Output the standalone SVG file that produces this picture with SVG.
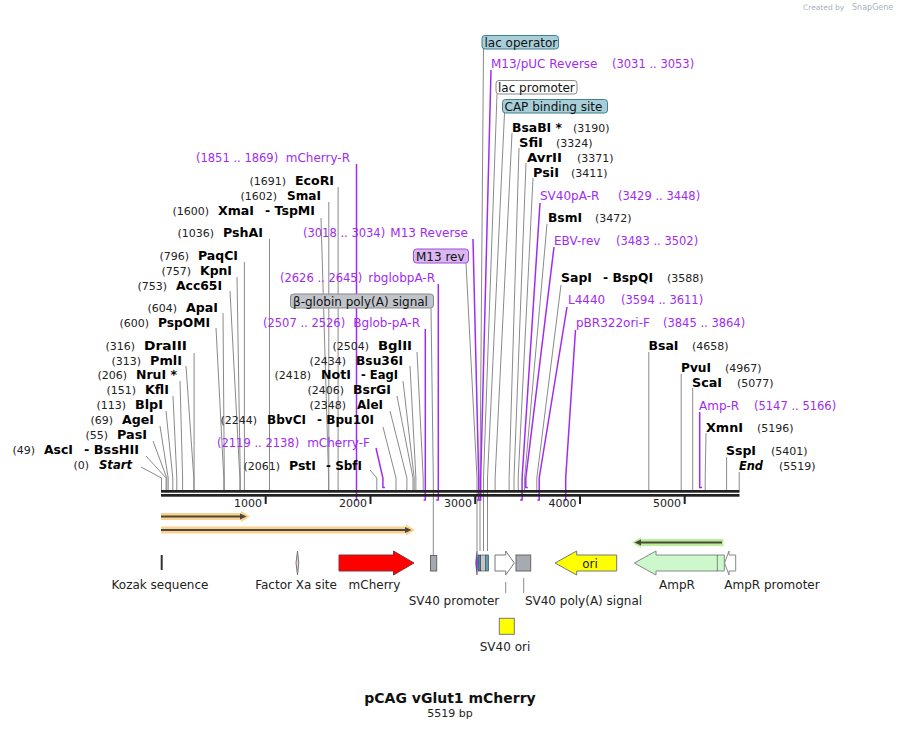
<svg xmlns="http://www.w3.org/2000/svg" width="901" height="729" viewBox="0 0 901 729">
<style>
text{font-family:"DejaVu Sans","Verdana",sans-serif}
.n{font-size:11px;fill:#222}
.e{font-size:12px;font-weight:bold;fill:#000}
.ei{font-size:12px;font-weight:bold;font-style:italic;fill:#000}
.pn{font-size:11.5px;fill:#a12cf0}
.pt{font-size:12px;fill:#a12cf0}
.f{font-size:12px;fill:#222}
.bx{font-size:12px;fill:#111}
.l{stroke:#8a8a8a;stroke-width:1;fill:none}
.pl{stroke:#a12cf0;stroke-width:1.5;fill:none}
.tk{stroke:#222;stroke-width:2}
.h1{fill:#fcc979;opacity:.85}
.h2{fill:#b5ec8d;opacity:.9}
.dk{fill:#4a4640}
</style>

<g id="connectors">
<line class="l" x1="194.1" y1="353" x2="194.1" y2="490"/>
<polyline class="l" points="186,366 193.8,478 193.8,490"/>
<polyline class="l" points="180,381 182.6,478 182.6,490"/>
<polyline class="l" points="173,396 176.8,478 176.8,490"/>
<polyline class="l" points="166,411 172.8,478 172.8,490"/>
<polyline class="l" points="160,426 168.2,478 168.2,490"/>
<polyline class="l" points="153,441 166.8,478 166.8,490"/>
<polyline class="l" points="146,456 166.1,478 166.1,490"/>
<polyline class="l" points="141,467 161.5,478 161.5,490"/>
<polyline class="l" points="216,328 223.8,478 223.8,490"/>
<polyline class="l" points="223,313 224.3,478 224.3,490"/>
<polyline class="l" points="230,291 239.9,478 239.9,490"/>
<polyline class="l" points="237,277 240.3,478 240.3,490"/>
<line class="l" x1="244.4" y1="262" x2="244.4" y2="490"/>
<line class="l" x1="269.5" y1="239" x2="269.5" y2="490"/>
<polyline class="l" points="321,218 328.6,478 328.6,490"/>
<line class="l" x1="328.8" y1="202" x2="328.8" y2="490"/>
<line class="l" x1="338.1" y1="187" x2="338.1" y2="490"/>
<polyline class="l" points="417,352 423.2,478 423.2,490"/>
<polyline class="l" points="410,366 415.9,478 415.9,490"/>
<polyline class="l" points="403,381 414.2,478 414.2,490"/>
<polyline class="l" points="397,396 413,478 413,490"/>
<polyline class="l" points="390,411 406.9,478 406.9,490"/>
<polyline class="l" points="383,427 396,478 396,490"/>
<polyline class="l" points="370,470 376.8,478 376.8,490"/>
<polyline class="l" points="512,133 495.1,478 495.1,490"/>
<polyline class="l" points="519,148 509.1,478 509.1,490"/>
<polyline class="l" points="526,163 514,478 514,490"/>
<polyline class="l" points="533,178 518.2,478 518.2,490"/>
<polyline class="l" points="547,224 524.6,478 524.6,490"/>
<polyline class="l" points="561,285 536.8,478 536.8,490"/>
<line class="l" x1="648.8" y1="352" x2="648.8" y2="490"/>
<line class="l" x1="681.2" y1="374" x2="681.2" y2="490"/>
<line class="l" x1="692.7" y1="388" x2="692.7" y2="490"/>
<polyline class="l" points="706,433 705.2,478 705.2,490"/>
<line class="l" x1="726.6" y1="457" x2="726.6" y2="490"/>
<line class="l" x1="739.2" y1="472" x2="739.2" y2="490"/>
<polyline class="l" points="483.5,49 480,478 480,551"/>
<polyline class="l" points="497,94 483.5,478 483.5,551"/>
<polyline class="l" points="504.5,113 487.5,478 487.5,551"/>
<polyline class="l" points="466,263 477,478 477,551"/>
<polyline class="l" points="431,308 433.3,478 433.3,555"/>
<line class="l" x1="505.7" y1="582" x2="505.7" y2="593"/>
<line class="l" x1="523.7" y1="578" x2="523.7" y2="593"/>
<polyline class="pl" points="356.5,164 356.5,500 354.8,500"/>
<polyline class="pl" points="473,239 478.7,478 478.7,500 477,500"/>
<polyline class="pl" points="438.3,284 438.3,500 436.2,500"/>
<polyline class="pl" points="425.3,329 425.3,500 423.6,500"/>
<polyline class="pl" points="376,448 382.9,478 382.9,487.5 384.9,487.5"/>
<polyline class="pl" points="491,70 480.7,478 480.7,500 478.4,500"/>
<polyline class="pl" points="540,203 522.1,478 522.1,500 520.1,500"/>
<polyline class="pl" points="554,247 525.8,478 525.8,487.5 527.8,487.5"/>
<polyline class="pl" points="567,307 539.2,478 539.2,500 537.4,500"/>
<polyline class="pl" points="575.5,330 565.7,478 565.7,500 563.7,500"/>
<polyline class="pl" points="699.7,412 699.7,487.5 702.1,487.5"/>
</g>

<g id="backbone">
<rect x="161" y="490" width="578.5" height="2.7" fill="#222"/>
<rect x="161" y="494" width="578.5" height="2.7" fill="#222"/>
<line class="tk" x1="265.7" y1="496" x2="265.7" y2="504"/>
<line class="tk" x1="370.5" y1="496" x2="370.5" y2="504"/>
<line class="tk" x1="475.2" y1="496" x2="475.2" y2="504"/>
<line class="tk" x1="580" y1="496" x2="580" y2="504"/>
<line class="tk" x1="684.7" y1="496" x2="684.7" y2="504"/>
<text class="n" x="262" y="507" text-anchor="end">1000</text>
<text class="n" x="367" y="507" text-anchor="end">2000</text>
<text class="n" x="472" y="507" text-anchor="end">3000</text>
<text class="n" x="576.5" y="507" text-anchor="end">4000</text>
<text class="n" x="681" y="507" text-anchor="end">5000</text>
</g>

<g id="DraIII"><text class="n" x="135" y="350" text-anchor="end">(316)</text><text class="e" x="144" y="350" textLength="43" lengthAdjust="spacingAndGlyphs">DraIII</text></g>
<g id="PmlI"><text class="n" x="141" y="365" text-anchor="end">(313)</text><text class="e" x="150" y="365" textLength="32" lengthAdjust="spacingAndGlyphs">PmlI</text></g>
<g id="NruI"><text class="n" x="127" y="379" text-anchor="end">(206)</text><text class="e" x="136" y="379" textLength="41" lengthAdjust="spacingAndGlyphs">NruI *</text></g>
<g id="KflI"><text class="n" x="136" y="394" text-anchor="end">(151)</text><text class="e" x="145" y="394" textLength="24" lengthAdjust="spacingAndGlyphs">KflI</text></g>
<g id="BlpI"><text class="n" x="126" y="409" text-anchor="end">(113)</text><text class="e" x="135" y="409" textLength="28" lengthAdjust="spacingAndGlyphs">BlpI</text></g>
<g id="AgeI"><text class="n" x="113" y="424" text-anchor="end">(69)</text><text class="e" x="122" y="424" textLength="32" lengthAdjust="spacingAndGlyphs">AgeI</text></g>
<g id="PasI"><text class="n" x="108" y="439" text-anchor="end">(55)</text><text class="e" x="117" y="439" textLength="30" lengthAdjust="spacingAndGlyphs">PasI</text></g>
<g id="AscI"><text class="n" x="35" y="454" text-anchor="end">(49)</text><text class="e" x="44" y="454" textLength="29" lengthAdjust="spacingAndGlyphs">AscI</text><text class="e" x="84" y="454" textLength="55" lengthAdjust="spacingAndGlyphs">- BssHII</text></g>
<g id="Start"><text class="n" x="89" y="469" text-anchor="end">(0)</text><text class="ei" x="99" y="469" textLength="33" lengthAdjust="spacingAndGlyphs">Start</text></g>
<g id="PspOMI"><text class="n" x="149" y="327" text-anchor="end">(600)</text><text class="e" x="158" y="327" textLength="52" lengthAdjust="spacingAndGlyphs">PspOMI</text></g>
<g id="ApaI"><text class="n" x="177" y="312" text-anchor="end">(604)</text><text class="e" x="186" y="312" textLength="32" lengthAdjust="spacingAndGlyphs">ApaI</text></g>
<g id="Acc65I"><text class="n" x="167" y="290" text-anchor="end">(753)</text><text class="e" x="176" y="290" textLength="46" lengthAdjust="spacingAndGlyphs">Acc65I</text></g>
<g id="KpnI"><text class="n" x="191" y="275" text-anchor="end">(757)</text><text class="e" x="200" y="275" textLength="32" lengthAdjust="spacingAndGlyphs">KpnI</text></g>
<g id="PaqCI"><text class="n" x="189" y="260" text-anchor="end">(796)</text><text class="e" x="198" y="260" textLength="40" lengthAdjust="spacingAndGlyphs">PaqCI</text></g>
<g id="PshAI"><text class="n" x="214" y="237" text-anchor="end">(1036)</text><text class="e" x="223" y="237" textLength="40" lengthAdjust="spacingAndGlyphs">PshAI</text></g>
<g id="XmaI"><text class="n" x="209" y="215" text-anchor="end">(1600)</text><text class="e" x="218" y="215" textLength="36" lengthAdjust="spacingAndGlyphs">XmaI</text><text class="e" x="265" y="215" textLength="50" lengthAdjust="spacingAndGlyphs">- TspMI</text></g>
<g id="SmaI"><text class="n" x="277" y="200" text-anchor="end">(1602)</text><text class="e" x="287" y="200" textLength="34" lengthAdjust="spacingAndGlyphs">SmaI</text></g>
<g id="EcoRI"><text class="n" x="286" y="185" text-anchor="end">(1691)</text><text class="e" x="295" y="185" textLength="39" lengthAdjust="spacingAndGlyphs">EcoRI</text></g>
<g id="BglII"><text class="n" x="369" y="350" text-anchor="end">(2504)</text><text class="e" x="378" y="350" textLength="34" lengthAdjust="spacingAndGlyphs">BglII</text></g>
<g id="Bsu36I"><text class="n" x="346" y="365" text-anchor="end">(2434)</text><text class="e" x="356" y="365" textLength="47" lengthAdjust="spacingAndGlyphs">Bsu36I</text></g>
<g id="NotI"><text class="n" x="311" y="379" text-anchor="end">(2418)</text><text class="e" x="321" y="379" textLength="30" lengthAdjust="spacingAndGlyphs">NotI</text><text class="e" x="361" y="379" textLength="37" lengthAdjust="spacingAndGlyphs">- EagI</text></g>
<g id="BsrGI"><text class="n" x="344" y="394" text-anchor="end">(2406)</text><text class="e" x="353" y="394" textLength="38" lengthAdjust="spacingAndGlyphs">BsrGI</text></g>
<g id="AleI"><text class="n" x="346" y="409" text-anchor="end">(2348)</text><text class="e" x="357" y="409" textLength="26" lengthAdjust="spacingAndGlyphs">AleI</text></g>
<g id="BbvCI"><text class="n" x="257" y="424" text-anchor="end">(2244)</text><text class="e" x="267" y="424" textLength="39" lengthAdjust="spacingAndGlyphs">BbvCI</text><text class="e" x="317" y="424" textLength="57" lengthAdjust="spacingAndGlyphs">- Bpu10I</text></g>
<g id="PstI"><text class="n" x="280" y="470" text-anchor="end">(2061)</text><text class="e" x="289" y="470" textLength="27" lengthAdjust="spacingAndGlyphs">PstI</text><text class="e" x="326" y="470" textLength="36" lengthAdjust="spacingAndGlyphs">- SbfI</text></g>

<g id="BsaBI"><text class="e" x="512" y="132" textLength="50" lengthAdjust="spacingAndGlyphs">BsaBI *</text><text class="n" x="573" y="132">(3190)</text></g>
<g id="SfiI"><text class="e" x="519" y="147" textLength="24" lengthAdjust="spacingAndGlyphs">SfiI</text><text class="n" x="556" y="147">(3324)</text></g>
<g id="AvrII"><text class="e" x="527" y="162" textLength="35" lengthAdjust="spacingAndGlyphs">AvrII</text><text class="n" x="577" y="162">(3371)</text></g>
<g id="PsiI"><text class="e" x="533" y="177" textLength="26" lengthAdjust="spacingAndGlyphs">PsiI</text><text class="n" x="571" y="177">(3411)</text></g>
<g id="BsmI"><text class="e" x="548" y="222" textLength="34" lengthAdjust="spacingAndGlyphs">BsmI</text><text class="n" x="595" y="222">(3472)</text></g>
<g id="SapI"><text class="e" x="561" y="282" textLength="31" lengthAdjust="spacingAndGlyphs">SapI</text><text class="e" x="603" y="282" textLength="50" lengthAdjust="spacingAndGlyphs">- BspQI</text><text class="n" x="667" y="282">(3588)</text></g>
<g id="BsaI"><text class="e" x="648.5" y="350" textLength="30" lengthAdjust="spacingAndGlyphs">BsaI</text><text class="n" x="692" y="350">(4658)</text></g>
<g id="PvuI"><text class="e" x="681" y="372" textLength="30" lengthAdjust="spacingAndGlyphs">PvuI</text><text class="n" x="725" y="372">(4967)</text></g>
<g id="ScaI"><text class="e" x="692" y="387" textLength="30" lengthAdjust="spacingAndGlyphs">ScaI</text><text class="n" x="737" y="387">(5077)</text></g>
<g id="XmnI"><text class="e" x="706" y="432" textLength="37" lengthAdjust="spacingAndGlyphs">XmnI</text><text class="n" x="757" y="432">(5196)</text></g>
<g id="SspI"><text class="e" x="726" y="455" textLength="30" lengthAdjust="spacingAndGlyphs">SspI</text><text class="n" x="771" y="455">(5401)</text></g>
<g id="End"><text class="ei" x="739" y="470" textLength="24" lengthAdjust="spacingAndGlyphs">End</text><text class="n" x="779" y="470">(5519)</text></g>

<g id="mCherry-R"><text class="pn" x="196" y="162">(1851 .. 1869)</text><text class="pt" x="350" y="162" text-anchor="end">mCherry-R</text></g>
<g id="M13Reverse"><text class="pn" x="303" y="237">(3018 .. 3034)</text><text class="pt" x="468" y="237" text-anchor="end">M13 Reverse</text></g>
<g id="rbglobpA-R"><text class="pn" x="280" y="282">(2626 .. 2645)</text><text class="pt" x="435" y="282" text-anchor="end">rbglobpA-R</text></g>
<g id="Bglob-pA-R"><text class="pn" x="263" y="327">(2507 .. 2526)</text><text class="pt" x="420" y="327" text-anchor="end">Bglob-pA-R</text></g>
<g id="mCherry-F"><text class="pn" x="217" y="447">(2119 .. 2138)</text><text class="pt" x="370" y="447" text-anchor="end">mCherry-F</text></g>
<g id="M13pUC"><text class="pt" x="491" y="68">M13/pUC Reverse</text><text class="pn" x="612" y="68">(3031 .. 3053)</text></g>
<g id="SV40pA-R"><text class="pt" x="540" y="200">SV40pA-R</text><text class="pn" x="618" y="200">(3429 .. 3448)</text></g>
<g id="EBV-rev"><text class="pt" x="554" y="245">EBV-rev</text><text class="pn" x="616" y="245">(3483 .. 3502)</text></g>
<g id="L4440"><text class="pt" x="568" y="304">L4440</text><text class="pn" x="621" y="304">(3594 .. 3611)</text></g>
<g id="pBR322ori-F"><text class="pt" x="576" y="327">pBR322ori-F</text><text class="pn" x="663" y="327">(3845 .. 3864)</text></g>
<g id="Amp-R"><text class="pt" x="699" y="410">Amp-R</text><text class="pn" x="754" y="410">(5147 .. 5166)</text></g>

<g id="lacOperatorLabel"><rect x="482" y="35.5" width="76.5" height="13.5" rx="3" fill="#a8cfd9" stroke="#3f7f8f"/><text class="bx" x="484.5" y="46.5">lac operator</text></g>
<g id="lacPromoterLabel"><rect x="496" y="80.5" width="81" height="13.5" rx="3" fill="#fff" stroke="#888"/><text class="bx" x="498" y="91.5">lac promoter</text></g>
<g id="CAPLabel"><rect x="502.5" y="99.5" width="105" height="13.5" rx="3" fill="#a8cfd9" stroke="#3f7f8f"/><text class="bx" x="504.5" y="110.5">CAP binding site</text></g>
<g id="M13revLabel"><rect x="413.5" y="249" width="55" height="14" rx="3" fill="#dab6f2" stroke="#9b4fd0"/><text class="bx" x="416" y="260.5">M13 rev</text></g>
<g id="bglobinLabel"><rect x="290.5" y="294" width="143" height="14" rx="3" fill="#c0c4ca" stroke="#888"/><text class="bx" x="293" y="305.5">β-globin poly(A) signal</text></g>

<g id="orf1"><polygon class="h1" points="161,513 241,513 241,511 250,516.5 241,522 241,520 161,520"/><line x1="161" y1="516.5" x2="242" y2="516.5" stroke="#4a4640" stroke-width="2"/><polygon class="dk" points="240,513.5 246.5,516.5 240,519.5"/></g>
<g id="orf2"><polygon class="h1" points="161,526.5 406,526.5 406,524.5 415,530 406,535.5 406,533.5 161,533.5"/><line x1="161" y1="530" x2="407" y2="530" stroke="#4a4640" stroke-width="2"/><polygon class="dk" points="405,527 411.5,530 405,533"/></g>
<g id="orf3"><polygon class="h2" points="632,542.5 641,537 641,539 723.5,539 723.5,546 641,546 641,548"/><line x1="637" y1="542.5" x2="722" y2="542.5" stroke="#4a4640" stroke-width="2"/><polygon class="dk" points="641,539.5 634.5,542.5 641,545.5"/></g>

<g id="Kozak"><line x1="161.7" y1="555" x2="161.7" y2="570" stroke="#333" stroke-width="2"/><text class="f" x="160" y="589" text-anchor="middle">Kozak sequence</text></g>
<g id="FactorXa"><path d="M297.5,551 Q294.5,563 297.5,575 Q300,563 297.5,551Z" fill="#f1d3e2" stroke="#777"/><text class="f" x="296" y="589" text-anchor="middle">Factor Xa site</text></g>
<g id="mCherry"><polygon points="339,555 393.5,555 393.5,551 414,563 393.5,575 393.5,571 339,571" fill="#ff0000" stroke="#8a3030"/><text class="f" x="374.5" y="589" text-anchor="middle">mCherry</text></g>
<g id="bglobinFeature"><rect x="430.5" y="555.5" width="6.2" height="15.5" fill="#a4a8b0" stroke="#666"/></g>
<g id="M13revFeature"><path d="M477,551 Q474.3,563 477,575 Q478.6,563 477,551Z" fill="#9b30ff" stroke="#555" stroke-width=".6"/></g>
<g id="lacOperator"><rect x="478.2" y="555" width="2.6" height="16" fill="#3f8ca3" stroke="#333" stroke-width=".6"/></g>
<g id="lacPromoter"><rect x="481" y="555" width="4" height="16" fill="#fff" stroke="#444" stroke-width=".6"/><line x1="483" y1="555.5" x2="483" y2="570.5" stroke="#111" stroke-dasharray="1,1"/></g>
<g id="CAP"><rect x="485.5" y="555" width="3" height="16" fill="#5aa0b4" stroke="#333" stroke-width=".6"/></g>
<g id="SV40promoter"><polygon points="495,555 505.7,555 505.7,551 514.3,563 505.7,575 505.7,571 495,571" fill="#fff" stroke="#777"/><text class="f" x="454" y="604.5" text-anchor="middle">SV40 promoter</text></g>
<g id="SV40polyA"><rect x="516" y="555" width="14.7" height="16" fill="#a6aab1" stroke="#666"/><text class="f" x="583.5" y="604.5" text-anchor="middle">SV40 poly(A) signal</text></g>
<g id="SV40ori"><rect x="499.3" y="618.3" width="15" height="16" fill="#ffff00" stroke="#777"/><text class="f" x="505" y="651" text-anchor="middle">SV40 ori</text></g>
<g id="ori"><polygon points="555,563 576.7,551 576.7,555 616.7,555 616.7,571 576.7,571 576.7,575" fill="#ffff00" stroke="#777"/><text class="f" x="590" y="567.5" text-anchor="middle">ori</text></g>
<g id="AmpR"><polygon points="634.3,563 656,551 656,555 724.3,555 724.3,571 656,571 656,575" fill="#ccf8cc" stroke="#888"/><line x1="717.3" y1="555.5" x2="717.3" y2="570.5" stroke="#222" stroke-dasharray="1,1"/><text class="f" x="677" y="589" text-anchor="middle">AmpR</text></g>
<g id="AmpRpromoter"><polygon points="724.5,563 729,551 729,555 735.7,555 735.7,571 729,571 729,575" fill="#fff" stroke="#888"/><text class="f" x="772" y="589" text-anchor="middle">AmpR promoter</text></g>

<g id="title">
<text x="450" y="703" text-anchor="middle" style="font-size:14px;font-weight:bold;fill:#111">pCAG vGlut1 mCherry</text>
<text x="450" y="717" text-anchor="middle" style="font-size:11px;fill:#222">5519 bp</text>
</g>
<g id="credit"><text x="803" y="10" style="font-size:7.5px;fill:#a9b1bd">Created by</text><text x="852" y="10" style="font-size:8px;fill:#a9b1bd">SnapGene</text></g>
</svg>
